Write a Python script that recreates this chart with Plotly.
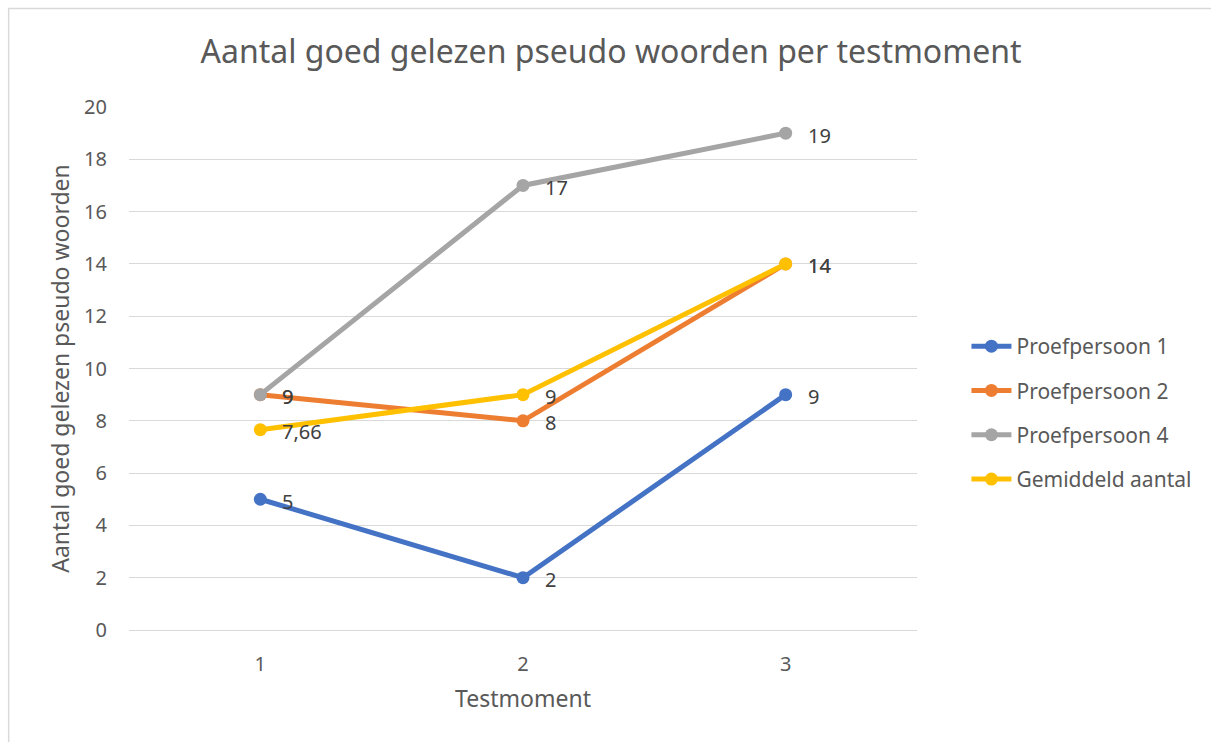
import plotly.graph_objects as go

categories = [1, 2, 3]
series_names = ["Proefpersoon 1", "Proefpersoon 2", "Proefpersoon 4", "Gemiddeld aantal"]
p1 = [5, 2, 9]
p2 = [9, 8, 14]
p4 = [9, 17, 19]
gem = [7.66, 9, 14]
colors = ["#4472C4", "#ED7D31", "#A5A5A5", "#FFC000"]
y_ticks = list(range(0, 21, 2))

W, H = 1211, 742
L, R, T, B = 128.5, 293.5, 107, 112
FONT = "Noto Sans"

fig = go.Figure()
for i, (name, vals, col) in enumerate(zip(series_names, [p1, p2, p4, gem], colors)):
    fig.add_trace(go.Scatter(
        x=categories, y=vals, name=name, mode="lines+markers",
        legendgroup="g%d" % i,
        line=dict(color=col, width=5),
        marker=dict(color=col, size=13),
        cliponaxis=False,
    ))
    for c, v in zip(categories, vals):
        fig.add_annotation(x=c, y=v, text=("%g" % v).replace(".", ","),
                           showarrow=False, xanchor="left", yanchor="middle",
                           xshift=20, yshift=-2,
                           font=dict(family=FONT, size=20, color="#404040"))

pw = W - L - R
ph = H - T - B
fig.add_shape(type="rect", xref="paper", yref="paper",
              x0=(8 - L) / pw, x1=(W + 20 - L) / pw,
              y0=-(H + 20 - T - ph) / ph, y1=(H - 8.5 - B) / ph,
              line=dict(color="#D9D9D9", width=1.5), fillcolor="rgba(0,0,0,0)", layer="below")

fig.update_layout(
    width=W, height=H,
    margin=dict(l=L, r=R, t=T, b=B, autoexpand=False),
    paper_bgcolor="white", plot_bgcolor="white",
    font=dict(family=FONT, color="#595959"),
    title=dict(text="Aantal goed gelezen pseudo woorden per testmoment",
               x=611 / W, xanchor="center", y=1 - 52 / H, yanchor="middle",
               font=dict(size=32, color="#595959")),
    xaxis=dict(range=[0.5, 3.5], tickvals=categories, ticktext=[str(c) for c in categories],
               showgrid=False, zeroline=False, showline=False, ticks="",
               tickfont=dict(size=20, color="#595959"), ticklabelstandoff=20,
               title=dict(text="Testmoment", font=dict(size=23, color="#595959"), standoff=14)),
    yaxis=dict(range=[0, 20], tickvals=y_ticks, showgrid=True, gridcolor="#D9D9D9", gridwidth=1,
               zeroline=True, zerolinecolor="#D9D9D9", zerolinewidth=1, showline=False, ticks="",
               tickfont=dict(size=20, color="#595959"), ticklabelstandoff=21,
               title=dict(text="Aantal goed gelezen pseudo woorden", font=dict(size=23, color="#595959"), standoff=8)),
    legend=dict(x=(967 - L) / pw, xanchor="left", y=1 - (326 - T) / ph, yanchor="top",
                font=dict(size=21, color="#595959"), itemwidth=40, tracegroupgap=14,
                bgcolor="rgba(0,0,0,0)"),
    showlegend=True,
)

fig.write_html("out.html", config={"displayModeBar": False},
               post_script="document.body.style.margin='0';")
